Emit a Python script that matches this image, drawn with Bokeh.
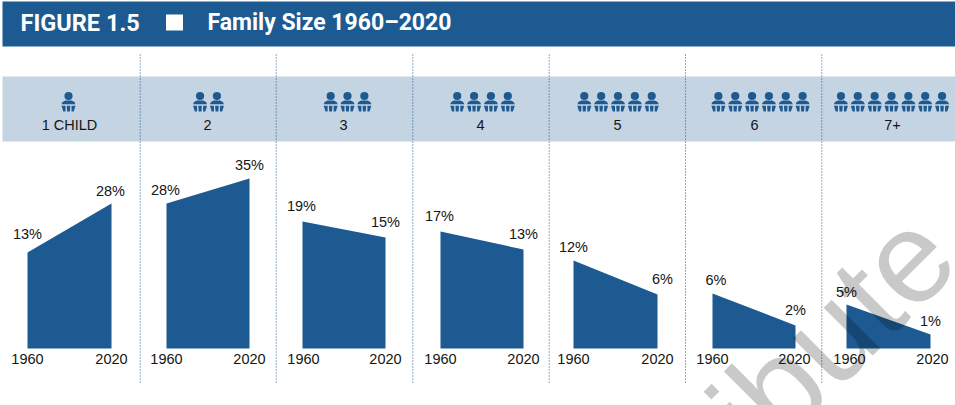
from bokeh.plotting import figure
from bokeh.models import Range1d
from bokeh.core.properties import value
from bokeh.embed import file_html
from bokeh.resources import INLINE

title_left = "FIGURE 1.5"
title_right = "Family Size 1960\u20132020"
categories = ["1 CHILD", "2", "3", "4", "5", "6", "7+"]
icon_counts = [1, 2, 3, 4, 5, 6, 7]
labels_1960 = ["13%", "28%", "19%", "17%", "12%", "6%", "5%"]
labels_2020 = ["28%", "35%", "15%", "13%", "6%", "2%", "1%"]
heights_1960 = [96, 145, 127, 117, 88, 55, 44]
heights_2020 = [145, 170, 111, 99, 54, 23, 14]
year_start = "1960"
year_end = "2020"
watermark = "ribute"
area_left = [27, 166, 302, 440, 573, 712, 846]
area_right = [111, 249, 385, 523, 657, 795, 930]
label_x_1960 = [27, 165, 301, 439, 573, 715.5, 846]
label_x_2020 = [110, 249, 385, 523, 662, 795, 930]
label_row_1960 = [233, 189, 205, 215, 246, 279, 291]
label_row_2020 = [190, 164, 221, 233, 278, 309, 320]
year_x_1960 = [27, 166, 303, 440, 573, 712, 849]
year_x_2020 = [111, 249, 385, 523, 657, 794, 932]
category_x = [69, 207, 343, 480, 617, 754, 892]
icon_x = [68, 208, 347, 482, 617.5, 760, 891]
separators = [139.7, 275.7, 412.3, 548.7, 685, 821.3]

BLUE = "#1c5a91"
BAND = "#c5d4e2"
TXT = "#151515"
BASE = 348  # page-pixel row of the zero line

p = figure(width=955, height=405, output_backend="svg", toolbar_location=None,
           x_range=Range1d(0, 955), y_range=Range1d(BASE - 405, BASE),
           min_border=0, outline_line_color=None, background_fill_color="white")
p.styles = {"position": "absolute", "left": "0px", "top": "0px"}
p.xaxis.visible = False
p.yaxis.visible = False
p.grid.visible = False


def Y(row):
    return BASE - row


def txt(x, row, s, size, color=TXT, font="Liberation Sans", style="normal", align="center"):
    p.text(x=[x], y=[Y(row)], text=[s], text_font=value(font), text_font_size=size,
           text_color=color, text_font_style=style, text_align=align, text_baseline="middle")


# header and band
p.quad(left=[2], right=[955], top=[Y(1)], bottom=[Y(46)], fill_color=BLUE, line_color=None)
p.quad(left=[2], right=[955], top=[Y(76)], bottom=[Y(141)], fill_color=BAND, line_color=None)
p.quad(left=[165.5], right=[182.5], top=[Y(14)], bottom=[Y(30)], fill_color="white", line_color=None)
txt(20, 22, title_left, "23.5px", "white", "Roboto", "bold", "left")
txt(207, 22, title_right, "23px", "white", "Roboto", "bold", "left")

# separators
for sx in separators:
    p.segment(x0=[sx], x1=[sx], y0=[Y(54)], y1=[Y(384)], line_color="#22588f",
              line_width=1, line_dash="1 2")

# areas and their texts
for i in range(7):
    p.patch(x=[area_left[i], area_left[i], area_right[i], area_right[i]],
            y=[0, heights_1960[i], heights_2020[i], 0],
            fill_color=BLUE, line_color=None)
    txt(label_x_1960[i], label_row_1960[i], labels_1960[i], "14.5px")
    txt(label_x_2020[i], label_row_2020[i], labels_2020[i], "14.5px")
    txt(year_x_1960[i], 358.5, year_start, "14.5px")
    txt(year_x_2020[i], 358.5, year_end, "14.5px")
    txt(category_x[i], 124.5, categories[i], "14.5px")

# icons
PITCH = 16.85
for i, n in enumerate(icon_counts):
    first = icon_x[i] - PITCH * (n - 1) / 2
    for k in range(n):
        cx = first + k * PITCH
        p.scatter(x=[cx], y=[Y(95.5)], size=8.2, marker="circle", fill_color=BLUE, line_color=None)
        p.patch(x=[cx - 7, cx - 6, cx - 3.2, cx + 3.2, cx + 6, cx + 7],
                y=[Y(103.7), Y(101.6), Y(100), Y(100), Y(101.6), Y(103.7)],
                fill_color=BLUE, line_color=None)
        p.patch(x=[cx - 7, cx - 3, cx - 3, cx - 5.2], y=[Y(105.3), Y(105.3), Y(111), Y(111)],
                fill_color=BLUE, line_color=None)
        p.patch(x=[cx - 1.8, cx + 1.8, cx + 1.4, cx - 1.4], y=[Y(105.3), Y(105.3), Y(111), Y(111)],
                fill_color=BLUE, line_color=None)
        p.patch(x=[cx + 3, cx + 7, cx + 5.2, cx + 3], y=[Y(105.3), Y(105.3), Y(111), Y(111)],
                fill_color=BLUE, line_color=None)

# watermark, laid over everything
p.text(x=[931], y=[Y(233)], text=[watermark], angle=0.785, text_font=value("Liberation Sans"),
       text_font_size="130px", text_color="black", text_alpha=0.21, text_align="right",
       text_baseline="alphabetic")

open("out.html", "w").write(file_html(p, INLINE))
